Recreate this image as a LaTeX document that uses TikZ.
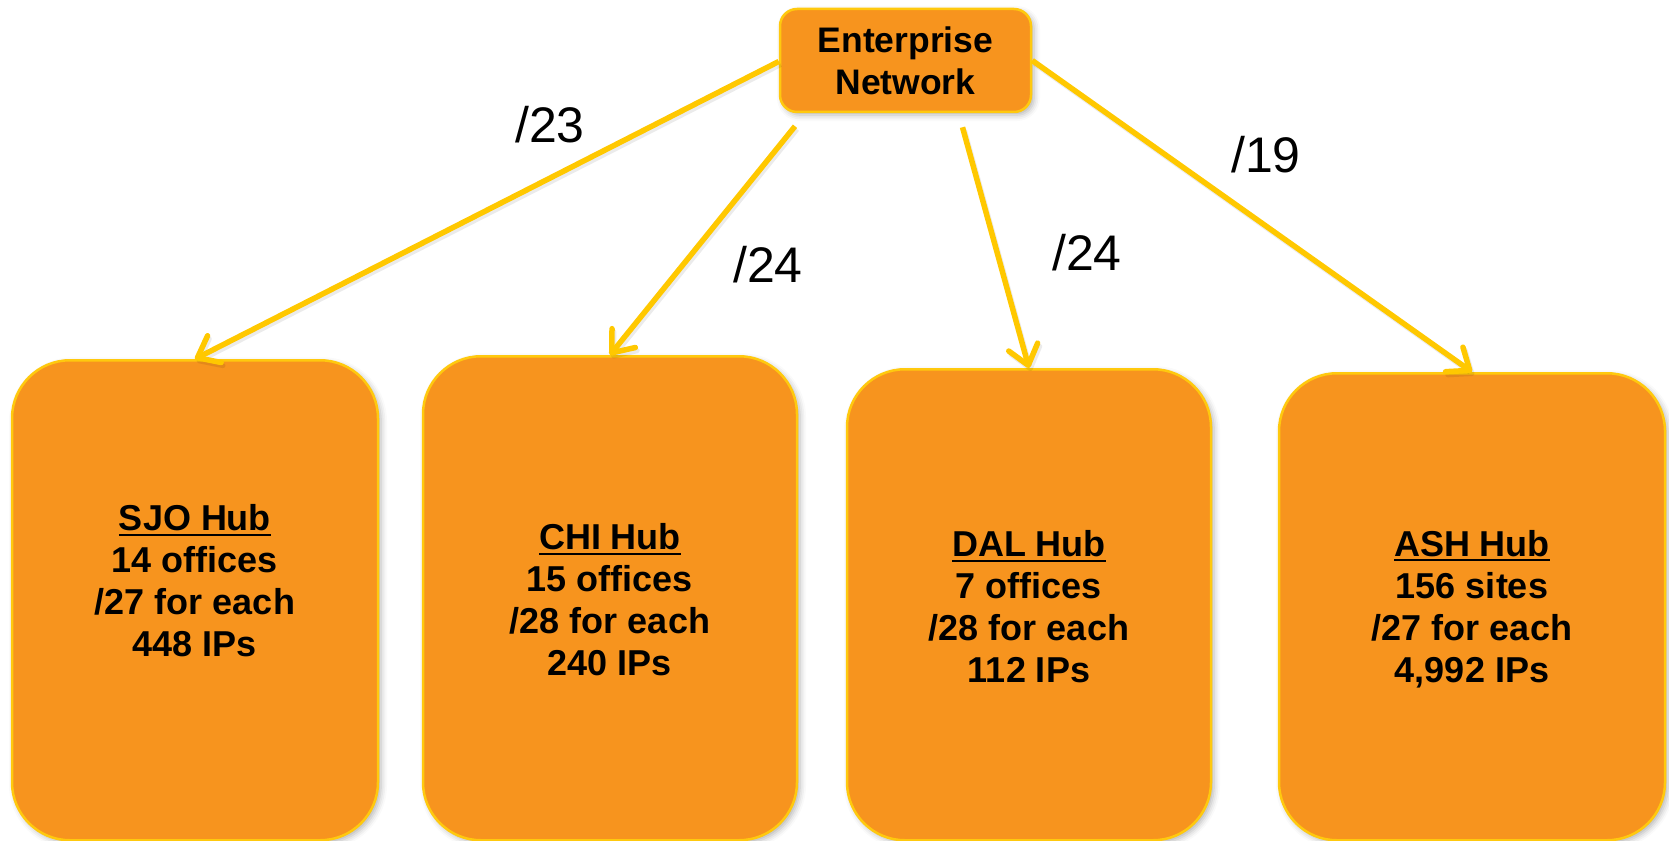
\documentclass[tikz,border=0pt]{standalone}
\usepackage{fontspec}
\setmainfont{Liberation Sans}
\usetikzlibrary{arrows.meta,shadows.blur}

\definecolor{hubfill}{HTML}{F7941E}
\definecolor{hubedge}{HTML}{FFC90E}
\definecolor{wirecol}{HTML}{FFC800}

% underline drawn as a rule a few points under the baseline
\newcommand{\hubul}[1]{\setbox0\hbox{#1}\rlap{\rule[-5pt]{\wd0}{2pt}}\box0}

\begin{document}
\begin{tikzpicture}[x=1pt,y=-1pt,
  softshadow/.style={blur shadow={shadow xshift=3pt, shadow yshift=-3pt,
      shadow blur radius=6pt, shadow opacity=30}},
  hub/.style={draw=hubedge, line width=2.5pt, fill=hubfill,
      rounded corners=58pt, anchor=north, inner sep=0pt, softshadow},
  netbox/.style={draw=hubedge, line width=2.5pt, fill=hubfill,
      rounded corners=17pt, inner sep=0pt, minimum width=251pt,
      minimum height=103pt, align=center,
      font=\fontsize{35.5}{42}\selectfont\bfseries, softshadow},
  hubtext/.style={align=center, inner sep=0pt,
      font=\fontsize{36}{42}\selectfont\bfseries},
  cidr/.style={inner sep=0pt, font=\fontsize{50}{60}\selectfont},
  wire/.style={draw=wirecol, line width=5.5pt,
      -{Straight Barb[length=19pt, width=30pt, round]},
      preaction={draw=black, opacity=0.08, line width=5pt,
        transform canvas={xshift=2pt, yshift=-3pt}}}
]
\useasboundingbox (0,0) rectangle (1669,840);

% top node
\node[netbox] (net) at (905.5,60.5) {Enterprise\\Network};

% hub boxes, all ending at the lower edge
\node[hub, minimum width=366pt, minimum height=480pt] (sjo) at (195,359) {};
\node[hub, minimum width=374pt, minimum height=484pt] (chi) at (610,355) {};
\node[hub, minimum width=364pt, minimum height=471pt] (dal) at (1029,368) {};
\node[hub, minimum width=386pt, minimum height=467pt] (ash) at (1472,372) {};

% hub contents
\node[hubtext] (sjot) at (195,581) {\hubul{SJO Hub}\\14 offices\\/27 for each\\448 IPs};
\node[hubtext] (chit) at (610,600) {\hubul{CHI Hub}\\15 offices\\/28 for each\\240 IPs};
\node[hubtext] (dalt) at (1029,607) {\hubul{DAL Hub}\\7 offices\\/28 for each\\112 IPs};
\node[hubtext] (asht) at (1472,609) {\hubul{ASH Hub}\\156 sites\\/27 for each\\4,992 IPs};

% links
\draw[wire] ([yshift=-1pt]net.west) -- (sjo.north);
\draw[wire] ([xshift=-110.5pt, yshift=-13pt]net.south) -- (chi.north);
\draw[wire] ([xshift=57pt, yshift=-14pt]net.south) -- (dal.north);
\draw[wire] (net.east) -- (ash.north);

% prefix labels
\node[cidr] (l23) at (550,125) {/23};
\node[cidr] (l24a) at (768,265) {/24};
\node[cidr] (l24b) at (1087,253) {/24};
\node[cidr] (l19) at (1266,155) {/19};
\end{tikzpicture}
\end{document}
